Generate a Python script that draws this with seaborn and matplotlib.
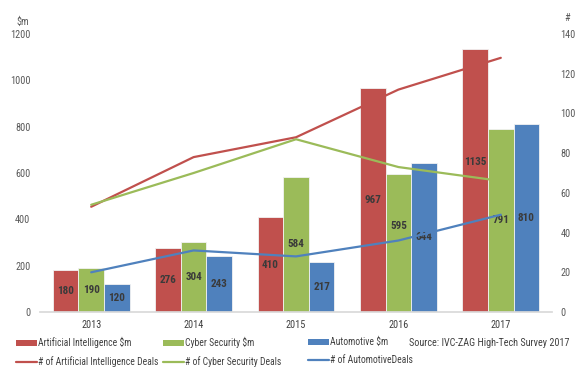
import matplotlib
matplotlib.use("Agg")
import matplotlib.pyplot as plt
from matplotlib.patches import Patch
from matplotlib.lines import Line2D
import seaborn as sns
import pandas as pd
import numpy as np

years = ["2013", "2014", "2015", "2016", "2017"]
ai_m = [180, 276, 410, 967, 1135]
cyber_m = [190, 304, 584, 595, 791]
auto_m = [120, 243, 217, 644, 810]
ai_deals = [53, 78, 88, 112, 128]
cyber_deals = [54, 70, 87, 73, 66]
auto_deals = [20, 31, 28, 36, 49]

bar_series = ["Artificial Intelligence $m", "Cyber Security $m", "Automotive $m"]
line_series = ["# of Artificial Intelligence Deals", "# of Cyber Security Deals", "# of AutomotiveDeals"]
colors = ["#C0504D", "#9BBB59", "#4F81BD"]
source_text = "Source: IVC-ZAG High-Tech Survey 2017"

sns.set_theme(style="white")
plt.rcParams["font.family"] = ["Roboto Condensed", "DejaVu Sans"]
fs_tick, fs_leg, fs_lab, fs_src = 7.4, 6.9, 8.0, 7.3

bars_df = pd.DataFrame({
    "year": years * 3,
    "value": ai_m + cyber_m + auto_m,
    "series": [s for s in bar_series for _ in years],
})

fig = plt.figure(figsize=(5.85, 3.74), dpi=100)
ax = fig.add_axes([40/585, 1-312/374, 512/585, (312-34)/374])

sns.barplot(data=bars_df, x="year", y="value", hue="series", palette=colors,
            width=0.75, gap=0, ax=ax, edgecolor="#f2f2f2", linewidth=0.6,
            legend=False, saturation=1)
ax.set_ylim(0, 1200)
ax.set_xlim(-0.5, 4.5)
ax.set_yticks(range(0, 1201, 200))
ax.set_xlabel("")
ax.set_ylabel("")

offsets = {("Cyber Security $m", "2016"): 12, ("Artificial Intelligence $m", "2017"): 13}
for cont, sname in zip(ax.containers, bar_series):
    for rect, yr in zip(cont, years):
        h = rect.get_height()
        xc = rect.get_x() + rect.get_width() / 2
        dy = offsets.get((sname, yr), 0)
        ax.annotate(f"{int(round(h))}", (xc, h / 2), xytext=(0, dy), textcoords="offset points",
                    ha="center", va="center", fontsize=fs_lab, color="#3a3a3a",
                    fontweight="bold", zorder=6)

ax2 = ax.twinx()
xs = np.arange(len(years))
for vals, c in zip([ai_deals, cyber_deals, auto_deals], colors):
    sns.lineplot(x=xs, y=vals, color=c, linewidth=1.6, ax=ax2)
ax2.set_ylim(0, 140)
ax2.set_yticks(range(0, 141, 20))
ax2.set_xlim(-0.5, 4.5)

for a in (ax, ax2):
    for s in ["top", "left", "right", "bottom"]:
        a.spines[s].set_visible(False)
    a.tick_params(axis="y", length=0, labelsize=fs_tick, colors="#595959")
ax.spines["bottom"].set_visible(True)
ax.spines["bottom"].set_color("#d9d9d9")
ax.tick_params(axis="x", length=0, labelsize=fs_tick, colors="#404040", pad=6)
ax.tick_params(axis="y", pad=7)
ax2.tick_params(axis="y", pad=6)
ax.set_xticks(np.arange(-0.5, 4.6, 1), minor=True)
ax.tick_params(axis="x", which="minor", length=4, color="#d9d9d9", direction="out")

fig.text(29/585, 1-22/374, "$m", ha="right", va="center", fontsize=fs_tick, color="#595959")
fig.text(567/585, 1-18/374, "#", ha="center", va="center", fontsize=fs_tick, color="#595959")

xpos = [16, 163, 308]
for i in range(3):
    handles = [Patch(facecolor=colors[i], edgecolor="none"),
               Line2D([0], [0], color=colors[i], linewidth=1.6)]
    labels = [bar_series[i], line_series[i]]
    fig.legend(handles, labels, loc="upper left",
               bbox_to_anchor=(xpos[i]/585, 1-337/374), frameon=False,
               fontsize=fs_leg, handlelength=2.2, handleheight=0.6,
               handletextpad=0.1, labelspacing=0.85, borderpad=0,
               borderaxespad=0, labelcolor="#404040")
fig.text(409/585, 1-343/374, source_text, ha="left", va="center", fontsize=fs_src, color="#404040")

fig.savefig("out.png", dpi=100)
